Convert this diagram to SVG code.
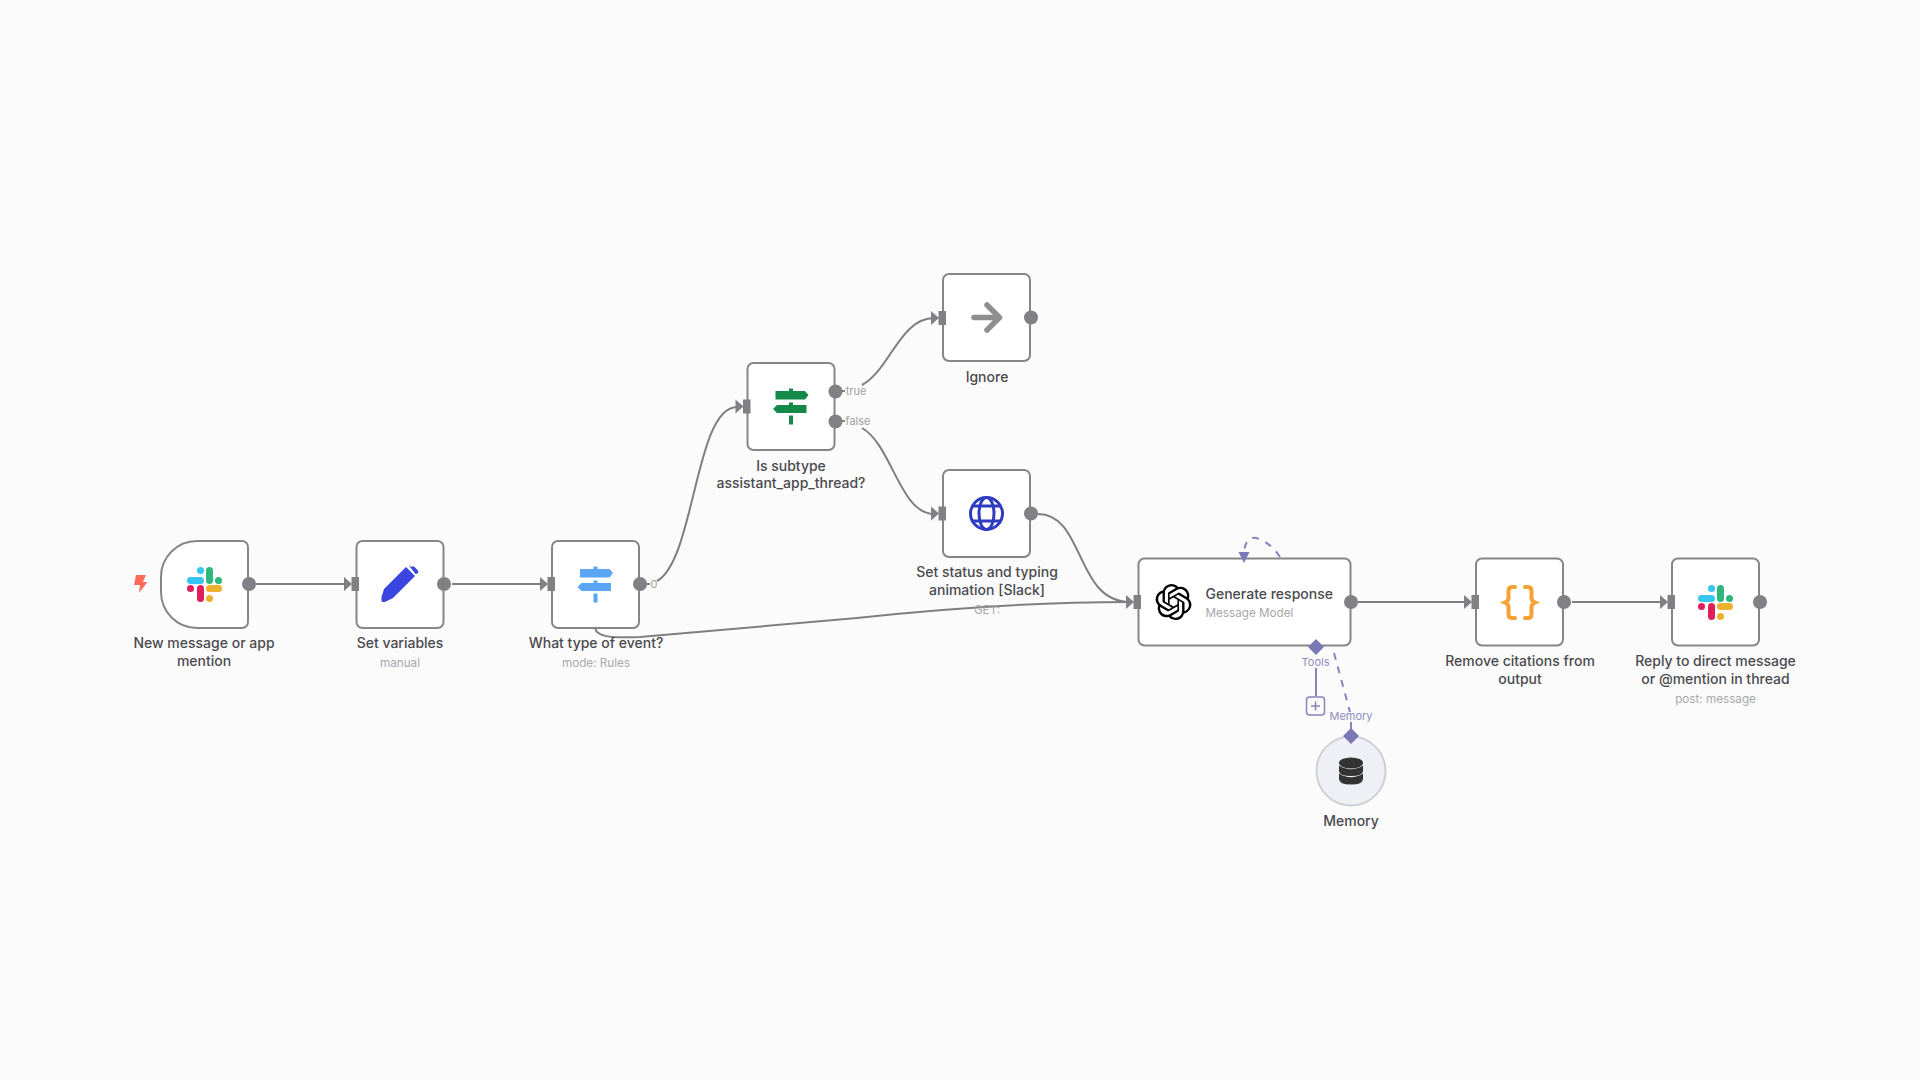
<svg xmlns="http://www.w3.org/2000/svg" xmlns:xlink="http://www.w3.org/1999/xlink" width="1920" height="1080" viewBox="0 0 1920 1080">
<style>
text{font-family:Inter,"Noto Sans","Liberation Sans",sans-serif}
.box{fill:#fff;stroke:#868686;stroke-width:2}
.t{font-size:14px;font-weight:500;fill:#4a4a4f;text-anchor:middle}
.s{font-size:11.700px;fill:#a8a8ad;text-anchor:middle}
.p{font-size:11px;fill:#a0a0a5;text-anchor:middle}
.m{font-size:11px;fill:#8f8ebd;text-anchor:middle}
.c{fill:none;stroke:#7f7f7f;stroke-width:2}
.d{fill:none;stroke:#8584bb;stroke-width:2;stroke-dasharray:7 7}
.port{fill:#808085}
.dot{fill:#808085}
.pur{fill:#7a78b5}
</style>
<defs>
<g id="inp"><path d="M-8 -7L0 0L-8 7Z" class="port"/><rect x="-0.500" y="-7" width="7.500" height="14" class="port"/></g>
<g id="slack">
<rect x="0" y="10" width="17" height="7" rx="3.500" fill="#36c5f0"/><circle cx="13.500" cy="3.500" r="3.500" fill="#36c5f0"/>
<rect x="19" y="0" width="7" height="17" rx="3.500" fill="#2eb67d"/><circle cx="31.500" cy="13.500" r="3.500" fill="#2eb67d"/>
<rect x="10" y="18" width="7" height="17" rx="3.500" fill="#e01e5a"/><circle cx="3.500" cy="21.500" r="3.500" fill="#e01e5a"/>
<rect x="19" y="18" width="16" height="7" rx="3.500" fill="#ecb22e"/><circle cx="22.500" cy="31.500" r="3.500" fill="#ecb22e"/>
</g>
<g id="sign">
<path d="M-15.500 -16H-2V-18.500H2V-16H14L17.500 -12L14 -7.500H-15.500Z M-14 -2H-2V-4.500H2V-2H15.500V6H-14L-18 2Z"/>
<rect x="-2" y="8.500" width="4" height="9"/>
</g>
</defs>
<rect width="1920" height="1080" fill="#fbfbfb"/>

<g id="connectors">
<path class="c" d="M256 584H346"/>
<path class="c" d="M452 584H541"/>
<path class="c" d="M640 584H650"/>
<path class="c" d="M657 581C695 560 695 407 737 407"/>
<path class="c" d="M835 391H845"/>
<path class="c" d="M835 421H845"/>
<path class="c" d="M862 385C890 370 900 318 934 318"/>
<path class="c" d="M862 428C892 445 900 514 934 514"/>
<path class="c" d="M1038 514C1085 514 1075 602 1130 602"/>
<path class="c" d="M595 628C597 638 615 638 640 637L857 618C950 608 1050 602 1130 602"/>
<path class="c" d="M1358 602H1468"/>
<path class="c" d="M1572 602H1664"/>
<path class="d" d="M1280 557C1270 542 1258 537 1252 538C1247 539 1245 545 1244 551"/>
<path d="M1316 668V696" fill="none" stroke="#8584bb" stroke-width="2"/>
<path class="d" d="M1334 653L1350 712"/>
<path d="M1351 722V730" fill="none" stroke="#8584bb" stroke-width="2"/>
</g>

<g id="trigger">
<path class="box" d="M197 541H242a6 6 0 0 1 6 6V622a6 6 0 0 1-6 6H197a36 36 0 0 1-36-36V577a36 36 0 0 1 36-36Z"/>
<path d="M136 575H146L143 582H147.500L139 593L140 585H134Z" fill="#ff6d5a"/>
<use xlink:href="#slack" href="#slack" x="187" y="567"/>
<circle class="dot" cx="249" cy="584" r="7"/>
<text class="t" x="204" y="648">New message or app</text>
<text class="t" x="204" y="666">mention</text>
</g>

<g id="set-variables">
<rect class="box" x="356.500" y="541" width="87" height="87" rx="6"/>
<use xlink:href="#inp" href="#inp" x="352" y="584"/>
<path d="M384 589L406 567L415 576L393 598L385 602H382.500Q381.500 602 381.500 600V597Z" fill="#3b46e0"/>
<path d="M408.500 565L411.500 567Q413 565.500 414.500 567L418 570.500Q419 572 417.500 573.500L415.500 574Z" fill="#3b46e0"/>
<circle class="dot" cx="444" cy="584" r="7"/>
<text class="t" x="400" y="648">Set variables</text>
<text class="s" x="400" y="667">manual</text>
</g>

<g id="what-type">
<rect class="box" x="552" y="541" width="87" height="87" rx="6"/>
<use xlink:href="#inp" href="#inp" x="548" y="584"/>
<use xlink:href="#sign" href="#sign" x="595.500" y="585" fill="#5aa5f5"/>
<circle class="dot" cx="640" cy="584" r="7"/>
<text class="p" x="654" y="588">0</text>
<text class="t" x="596" y="648">What type of event?</text>
<text class="s" x="596" y="667">mode: Rules</text>
</g>

<g id="is-subtype">
<rect class="box" x="747.500" y="363" width="87" height="87" rx="6"/>
<use xlink:href="#inp" href="#inp" x="743.500" y="406.500"/>
<use xlink:href="#sign" href="#sign" x="791" y="407" fill="#138a4a"/>
<circle class="dot" cx="835.500" cy="391.500" r="7"/>
<circle class="dot" cx="835.500" cy="421.500" r="7"/>
<text class="p" x="856" y="395">true</text>
<text class="p" x="858" y="425">false</text>
<text class="t" x="791" y="471">Is subtype</text>
<text class="t" x="791" y="488">assistant_app_thread?</text>
</g>

<g id="ignore">
<rect class="box" x="943" y="274" width="87" height="87" rx="6"/>
<use xlink:href="#inp" href="#inp" x="939" y="318"/>
<path d="M974 317.500H999M987 305L999.500 317.500L987 330" fill="none" stroke="#8f8f8f" stroke-width="5.500" stroke-linecap="round" stroke-linejoin="round"/>
<circle class="dot" cx="1031" cy="317.500" r="7"/>
<text class="t" x="987" y="382">Ignore</text>
</g>

<g id="set-status">
<rect class="box" x="943" y="470" width="87" height="87" rx="6"/>
<use xlink:href="#inp" href="#inp" x="939" y="513.500"/>
<g fill="none" stroke="#2f3cc0" stroke-width="3">
<circle cx="986.500" cy="513.500" r="16"/>
<ellipse cx="986.500" cy="513.500" rx="7.500" ry="16"/>
<path d="M972 506H1001M972 521H1001"/>
</g>
<circle class="dot" cx="1031" cy="513.500" r="7"/>
<text class="t" x="987" y="577">Set status and typing</text>
<text class="t" x="987" y="595">animation [Slack]</text>
<text class="s" x="987" y="614">GET:</text>
</g>

<g id="generate-response">
<rect class="box" x="1138.500" y="558.500" width="212" height="87" rx="6"/>
<use xlink:href="#inp" href="#inp" x="1134" y="602"/>
<path transform="translate(1155.500 584) scale(1.500)" fill="#000" d="M22.2819 9.8211a5.9847 5.9847 0 0 0-.5157-4.9108 6.0462 6.0462 0 0 0-6.5098-2.9A6.0651 6.0651 0 0 0 4.9807 4.1818a5.9847 5.9847 0 0 0-3.9977 2.9 6.0462 6.0462 0 0 0 .7427 7.0966 5.98 5.98 0 0 0 .511 4.9107 6.051 6.051 0 0 0 6.5146 2.9001A5.9847 5.9847 0 0 0 13.2599 24a6.0557 6.0557 0 0 0 5.7718-4.2058 5.9894 5.9894 0 0 0 3.9977-2.9001 6.0557 6.0557 0 0 0-.7475-7.0729zm-9.022 12.6081a4.4755 4.4755 0 0 1-2.8764-1.0408l.1419-.0804 4.7783-2.7582a.7948.7948 0 0 0 .3927-.6813v-6.7369l2.02 1.1686a.071.071 0 0 1 .038.052v5.5826a4.504 4.504 0 0 1-4.4945 4.4944zm-9.6607-4.1254a4.4708 4.4708 0 0 1-.5346-3.0137l.142.0852 4.783 2.7582a.7712.7712 0 0 0 .7806 0l5.8428-3.3685v2.3324a.0804.0804 0 0 1-.0332.0615L9.74 19.9502a4.4992 4.4992 0 0 1-6.1408-1.6464zM2.3408 7.8956a4.485 4.485 0 0 1 2.3655-1.9728V11.6a.7664.7664 0 0 0 .3879.6765l5.8144 3.3543-2.0201 1.1685a.0757.0757 0 0 1-.071 0l-4.8303-2.7865A4.504 4.504 0 0 1 2.3408 7.872zm16.5963 3.8558L13.1038 8.364 15.1192 7.2a.0757.0757 0 0 1 .071 0l4.8303 2.7913a4.4944 4.4944 0 0 1-.6765 8.1042v-5.6772a.79.79 0 0 0-.407-.667zm2.0107-3.0231l-.142-.0852-4.7735-2.7818a.7759.7759 0 0 0-.7854 0L9.409 9.2297V6.8974a.0662.0662 0 0 1 .0284-.0615l4.8303-2.7866a4.4992 4.4992 0 0 1 6.6802 4.66zM8.3065 12.863l-2.02-1.1638a.0804.0804 0 0 1-.038-.0567V6.0742a4.4992 4.4992 0 0 1 7.3757-3.4537l-.142.0805L8.704 5.459a.7948.7948 0 0 0-.3927.6813zm1.0976-2.3654l2.602-1.4998 2.6069 1.4998v2.9994l-2.5974 1.4997-2.6067-1.4997Z"/>
<circle class="dot" cx="1351" cy="602" r="7"/>
<text x="1205.500" y="599" font-size="14" font-weight="500" fill="#4a4a4f">Generate response</text>
<text x="1205.500" y="617" font-size="11.700" fill="#a8a8ad">Message Model</text>
<path class="pur" d="M1238.500 552H1249.500L1244 563Z"/>
<path class="pur" d="M1316 639L1324 647L1316 655L1308 647Z"/>
<text class="m" x="1315.500" y="666">Tools</text>
<rect x="1306.500" y="697" width="18" height="18" rx="3" fill="#fbfbfb" stroke="#8584bb" stroke-width="1.500"/>
<path d="M1311 706H1320M1315.500 701.500V710.500" fill="none" stroke="#8584bb" stroke-width="1.500"/>
<text class="m" x="1351" y="720">Memory</text>
</g>

<g id="memory">
<circle cx="1351" cy="771" r="34.500" fill="#eff0f6" stroke="#cfcfd6" stroke-width="2"/>
<path class="pur" d="M1351 728L1359 736L1351 744L1343 736Z"/>
<g fill="#333">
<ellipse cx="1351" cy="763" rx="12" ry="5.500"/>
<path d="M1339 765.500Q1351 773 1363 765.500V771Q1363 776 1351 776Q1339 776 1339 771Z"/>
<path d="M1339 773.500Q1351 781 1363 773.500V779Q1363 784.500 1351 784.500Q1339 784.500 1339 779Z"/>
</g>
<text x="1351" y="826" font-size="14" font-weight="500" fill="#4a4a4f" text-anchor="middle">Memory</text>
</g>

<g id="remove-citations">
<rect class="box" x="1476" y="558.500" width="87" height="87" rx="6"/>
<use xlink:href="#inp" href="#inp" x="1472" y="602"/>
<path d="M1515 587H1512Q1508.500 587 1508.500 591V598Q1508.500 601 1505 602.500Q1508.500 604 1508.500 607V614Q1508.500 618 1512 618H1515M1525 587H1528Q1531.500 587 1531.500 591V598Q1531.500 601 1535 602.500Q1531.500 604 1531.500 607V614Q1531.500 618 1528 618H1525" fill="none" stroke="#f4a234" stroke-width="4" stroke-linecap="round"/>
<circle class="dot" cx="1564" cy="602" r="7"/>
<text class="t" x="1520" y="666">Remove citations from</text>
<text class="t" x="1520" y="684">output</text>
</g>

<g id="reply">
<rect class="box" x="1672" y="558.500" width="87" height="87" rx="6"/>
<use xlink:href="#inp" href="#inp" x="1668" y="602"/>
<use xlink:href="#slack" href="#slack" x="1698" y="585"/>
<circle class="dot" cx="1760" cy="602" r="7"/>
<text class="t" x="1715.500" y="666">Reply to direct message</text>
<text class="t" x="1715.500" y="684">or @mention in thread</text>
<text class="s" x="1715.500" y="703">post: message</text>
</g>
</svg>
